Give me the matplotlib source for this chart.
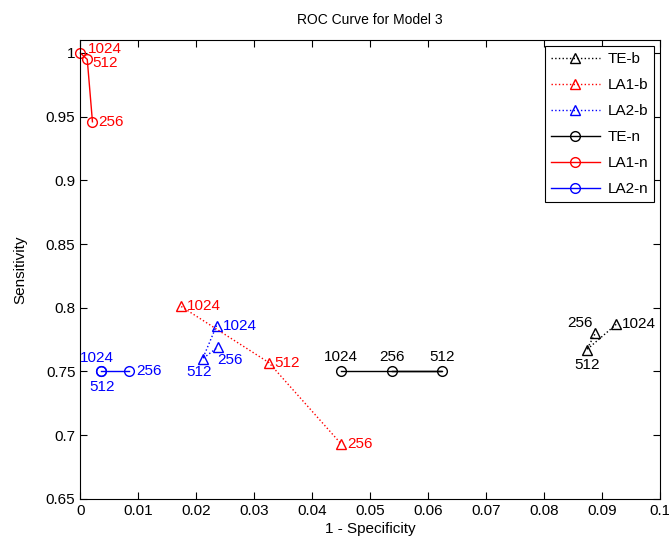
import matplotlib.pyplot as plt
from matplotlib.ticker import FormatStrFormatter

plt.rcParams['font.family'] = ['Liberation Sans', 'DejaVu Sans']

# block sizes, same order for every series
sizes = ['1024', '512', '256']

# binary features (triangles, dotted)
te_b_x = [0.0924, 0.0873, 0.0888]
te_b_y = [0.787, 0.767, 0.780]
la1_b_x = [0.0174, 0.0325, 0.0450]
la1_b_y = [0.801, 0.757, 0.693]
la2_b_x = [0.0235, 0.0211, 0.0237]
la2_b_y = [0.786, 0.760, 0.769]

# numeric features (circles, solid)
te_n_x = [0.0450, 0.0624, 0.0538]
te_n_y = [0.750, 0.750, 0.750]
la1_n_x = [0.0000, 0.0012, 0.0021]
la1_n_y = [1.000, 0.995, 0.946]
la2_n_x = [0.0036, 0.0036, 0.0084]
la2_n_y = [0.750, 0.750, 0.750]

series = [
    ('TE-b', te_b_x, te_b_y, 'k', ':', '^'),
    ('LA1-b', la1_b_x, la1_b_y, 'r', ':', '^'),
    ('LA2-b', la2_b_x, la2_b_y, 'b', ':', '^'),
    ('TE-n', te_n_x, te_n_y, 'k', '-', 'o'),
    ('LA1-n', la1_n_x, la1_n_y, 'r', '-', 'o'),
    ('LA2-n', la2_n_x, la2_n_y, 'b', '-', 'o'),
]

# label placement (dx, dy in pixels, horizontal alignment) for 1024 / 512 / 256
R = (6, 0, 'left')
placement = {
    'TE-b': [R, (0, -15, 'center'), (-3, 10, 'right')],
    'LA1-b': [R, R, R],
    'LA2-b': [R, (-4, -13, 'center'), (0, -13, 'left')],
    'TE-n': [(0, 14, 'center'), (0, 14, 'center'), (0, 14, 'center')],
    'LA1-n': [(8, 4, 'left'), (5, -4, 'left'), R],
    'LA2-n': [(-4, 13, 'center'), (1, -16, 'center'), (7, 0, 'left')],
}

fig = plt.figure(figsize=(6.69, 5.44), dpi=100)
ax = fig.add_axes([0.12, 0.083, 0.867, 0.843])

for name, xs, ys, col, ls, mk in series:
    ax.plot(xs, ys, color=col, linestyle=ls, marker=mk, markersize=7,
            markerfacecolor='none', markeredgecolor=col, linewidth=1,
            label=name, clip_on=False)
    for s, x, y, (dx, dy, ha) in zip(sizes, xs, ys, placement[name]):
        ax.annotate(s, (x, y), xytext=(dx, dy), textcoords='offset pixels',
                    color=col, fontsize=11, ha=ha, va='center')

ax.set_xlim(0, 0.1)
ax.set_ylim(0.65, 1.01)
ax.set_xticks([i / 100 for i in range(11)])
ax.set_yticks([0.65, 0.7, 0.75, 0.8, 0.85, 0.9, 0.95, 1.0])
ax.xaxis.set_major_formatter(FormatStrFormatter('%g'))
ax.yaxis.set_major_formatter(FormatStrFormatter('%g'))
ax.tick_params(direction='in', top=True, right=True, labelsize=11, length=5)

ax.set_title('ROC Curve for Model 3', fontsize=10, pad=12)
ax.set_xlabel('1 - Specificity', fontsize=11, labelpad=3)
ax.set_ylabel('Sensitivity', fontsize=11, labelpad=13)

leg = ax.legend(loc='upper right', fontsize=11, fancybox=False,
                edgecolor='k', framealpha=1, borderaxespad=0.4,
                handlelength=3.2, handletextpad=0.5, labelspacing=0.78)
leg.get_frame().set_linewidth(0.8)

fig.savefig('out.png', dpi=100)
